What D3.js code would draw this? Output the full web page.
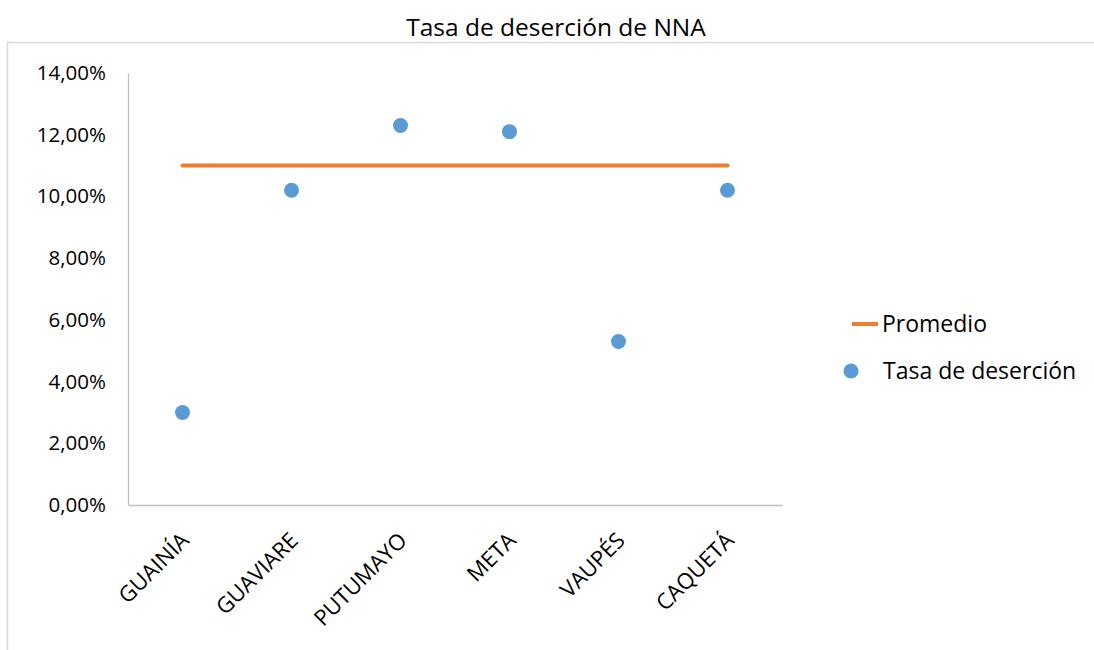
<!DOCTYPE html>
<html>
<head>
<meta charset="utf-8">
<script src="https://cdn.jsdelivr.net/npm/d3@7"></script>
<style>
  body { margin: 0; background: #fff; }
  svg { display: block; font-family: "Open Sans", "Noto Sans", sans-serif; }
</style>
</head>
<body>
<div id="chart"></div>
<script>
const departamentos = ["GUAINÍA", "GUAVIARE", "PUTUMAYO", "META", "VAUPÉS", "CAQUETÁ"];
const tasaDesercion = [0.030, 0.102, 0.123, 0.121, 0.053, 0.102];
const promedio = [0.110, 0.110, 0.110, 0.110, 0.110, 0.110];
const yTicks = [0, 0.02, 0.04, 0.06, 0.08, 0.10, 0.12, 0.14];

const width = 1094, height = 650;
const margin = {top: 73, left: 128, right: 312, bottom: 145};

const svg = d3.select("#chart").append("svg")
    .attr("width", width)
    .attr("height", height);

// chart frame (right and bottom edges fall outside the picture)
svg.append("rect")
    .attr("x", 7.5).attr("y", 42.5)
    .attr("width", 1090).attr("height", 640)
    .attr("fill", "none")
    .attr("stroke", "#d9d9d9")
    .attr("stroke-width", 1.5);

svg.append("text")
    .attr("x", 556).attr("y", 36)
    .attr("text-anchor", "middle")
    .attr("font-size", 24.5)
    .attr("fill", "#000")
    .text("Tasa de deserción de NNA");

const x = d3.scaleBand()
    .domain(departamentos)
    .range([margin.left, width - margin.right]);

const y = d3.scaleLinear()
    .domain([0, 0.14])
    .range([height - margin.bottom, margin.top]);

const fmt = v => d3.format(".2f")(v * 100).replace(".", ",") + "%";

// y axis
const yAxis = svg.append("g")
    .attr("transform", `translate(${margin.left},0)`)
    .call(d3.axisLeft(y).tickValues(yTicks).tickFormat(fmt).tickSize(0).tickPadding(22));
yAxis.select(".domain").attr("stroke", "#bfbfbf").attr("stroke-width", 1.3);
yAxis.selectAll("text")
    .attr("font-size", 20.5)
    .attr("fill", "#000")
    .attr("font-family", "'Open Sans', sans-serif");

// x axis
const xAxis = svg.append("g")
    .attr("transform", `translate(0,${height - margin.bottom})`)
    .call(d3.axisBottom(x).tickSize(0).tickFormat(""));
xAxis.select(".domain").attr("stroke", "#bfbfbf").attr("stroke-width", 1.3);

svg.append("g")
    .selectAll("text")
    .data(departamentos)
    .join("text")
    .attr("transform", d => `translate(${x(d) + x.bandwidth() / 2 - 3},${height - margin.bottom + 26}) rotate(-45)`)
    .attr("text-anchor", "end")
    .attr("dy", "0.7em")
    .attr("font-size", 22)
    .attr("fill", "#000")
    .text(d => d);

// promedio line
const line = d3.line()
    .x((d, i) => x(departamentos[i]) + x.bandwidth() / 2)
    .y(d => y(d));

svg.append("path")
    .datum(promedio)
    .attr("d", line)
    .attr("fill", "none")
    .attr("stroke", "#ed7d31")
    .attr("stroke-width", 4)
    .attr("stroke-linecap", "round");

// points
svg.append("g")
    .selectAll("circle")
    .data(tasaDesercion)
    .join("circle")
    .attr("cx", (d, i) => x(departamentos[i]) + x.bandwidth() / 2)
    .attr("cy", d => y(d))
    .attr("r", 7.5)
    .attr("fill", "#5b9bd5");

// legend
const legend = svg.append("g");
legend.append("line")
    .attr("x1", 852).attr("x2", 878)
    .attr("y1", 324).attr("y2", 324)
    .attr("stroke", "#ed7d31")
    .attr("stroke-width", 4);
legend.append("text")
    .attr("x", 882).attr("y", 324)
    .attr("dy", "0.35em")
    .attr("font-size", 23)
    .text("Promedio");
legend.append("circle")
    .attr("cx", 851).attr("cy", 371)
    .attr("r", 7.5)
    .attr("fill", "#5b9bd5");
legend.append("text")
    .attr("x", 883).attr("y", 371)
    .attr("dy", "0.35em")
    .attr("font-size", 23)
    .text("Tasa de deserción");
</script>
</body>
</html>
